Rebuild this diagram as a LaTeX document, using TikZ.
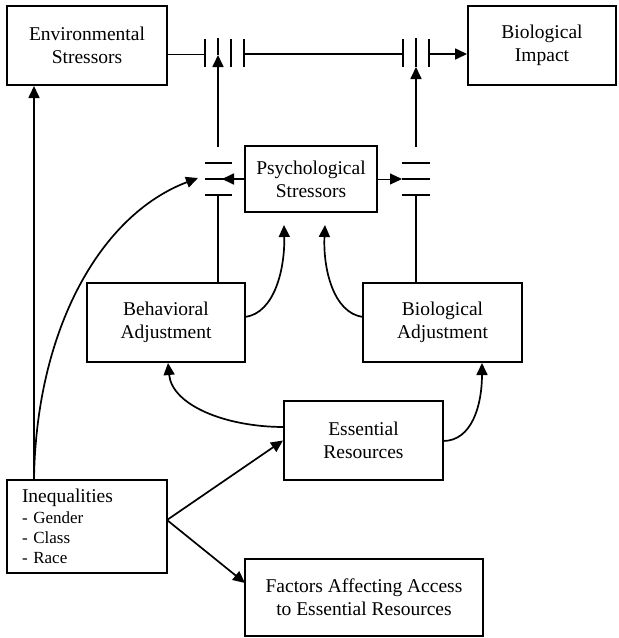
\documentclass[tikz,border=0pt]{standalone}
\usepackage{fontspec}
\setmainfont{Liberation Serif}
\usetikzlibrary{arrows.meta,calc}
\begin{document}
\begin{tikzpicture}[x=1pt,y=-1pt,
  box/.style={draw, line width=2pt, inner sep=0pt, align=center,
    font=\fontsize{19.5}{23}\selectfont},
  conn/.style={line width=1.7pt},
  thin/.style={line width=1pt},
  arr/.style={-{Triangle[length=12pt,width=11pt]}}]
\useasboundingbox (0,0) rectangle (619,638);
% boxes
\node[box, minimum width=160pt, minimum height=79pt] (env) at (87,45.5) {Environmental\\Stressors};
\node[box, minimum width=148pt, minimum height=79pt] (bioimp) at (542,45.5) {Biological\\Impact};
\node[box, minimum width=132pt, minimum height=66pt] (psych) at (311,179) {Psychological\\Stressors};
\node[box, minimum width=158pt, minimum height=79pt] (behav) at (166,322.5) {Behavioral\\Adjustment};
\node[box, minimum width=159pt, minimum height=79pt] (bioadj) at (442.5,322.5) {Biological\\Adjustment};
\node[box, minimum width=159pt, minimum height=79pt] (essen) at (363.5,440.5) {Essential\\Resources};
\node[box, minimum width=160pt, minimum height=93pt, align=left, text width=130pt, inner xsep=15pt,
  font=\fontsize{17}{20.3}\selectfont] (ineq) at (87,526.5)
  {{\fontsize{19.5}{20.3}\selectfont Inequalities}\\- Gender\\- Class\\- Race};
\node[box, minimum width=238pt, minimum height=77pt] (factors) at (364,597.5) {Factors Affecting Access\\to Essential Resources};

% coordinates
\coordinate (barA) at (205,54);
\coordinate (barD) at (244,54);
\coordinate (barE) at (403,54);
\coordinate (barF) at (429,54);
\coordinate (tipL) at (218,55);
\coordinate (tipR) at (416,67);
\coordinate (lcapTop) at (218,147);
\coordinate (rcapTop) at (416,147);
\coordinate (lcapBot) at (218,195);
\coordinate (rcapBot) at (416,195);
\coordinate (lcapTip) at (222,179);
\coordinate (rcapTip) at (402,179);
\coordinate (ineqT) at (34,480);
\coordinate (ineqR) at (167,520);
\coordinate (factIn) at (245,583);
\coordinate (psychInL) at (198,178);
\coordinate (psychB1) at (284,225);
\coordinate (psychB2) at (325,225);
\coordinate (behavR) at (245,317);
\coordinate (bioadjL) at (363,317);
\coordinate (behavB) at (168,363);
\coordinate (bioadjB) at (482,363);
\coordinate (essenL) at (284,427);
\coordinate (essenR) at (443,441);

% top horizontal chain
\draw[thin] (env.east |- barA) -- (barA);
\draw[conn] (barD) -- (barE);
\draw[conn, arr] (barF) -- (bioimp.west |- barF);
\foreach \x in {205,231,244,403,429} \draw[conn] (\x,39) -- (\x,67);
\draw[conn] (218,38) -- (tipL);
\draw[conn] (416,38) -- (tipR);
\draw[conn, arr] (lcapTop) -- (tipL);
\draw[conn, arr] (rcapTop) -- (tipR);

% psychological capacitors
\foreach \y in {163,179,195} {
  \draw[conn] (205,\y) -- (232,\y);
  \draw[conn] (402,\y) -- (430,\y);
}
\draw[conn, arr] (psych.west) -- (lcapTip);
\draw[thin, arr] (psych.east) -- (rcapTip);
\draw[conn] (lcapBot) -- (behav.north -| lcapBot);
\draw[conn] (rcapBot) -- (bioadj.north -| rcapBot);

% curves into psych
\draw[conn, arr] (behavR) .. controls (275,313) and (285,268) .. (psychB1);
\draw[conn, arr] (bioadjL) .. controls (333,313) and (323,268) .. (psychB2);

% essential resources curves
\draw[conn, arr] (essenL) .. controls (225,427) and (172,405) .. (behavB);
\draw[conn, arr] (essenR) .. controls (472,441) and (482,405) .. (bioadjB);

% inequalities
\draw[conn, arr] (ineqT) -- (env.south -| ineqT);
\draw[conn, arr] (ineqT) .. controls (36,330) and (100,215) .. (psychInL);
\draw[conn, arr] (ineqR) -- (essen.west);
\draw[conn, arr] (ineqR) -- (factIn);
\end{tikzpicture}
\end{document}
